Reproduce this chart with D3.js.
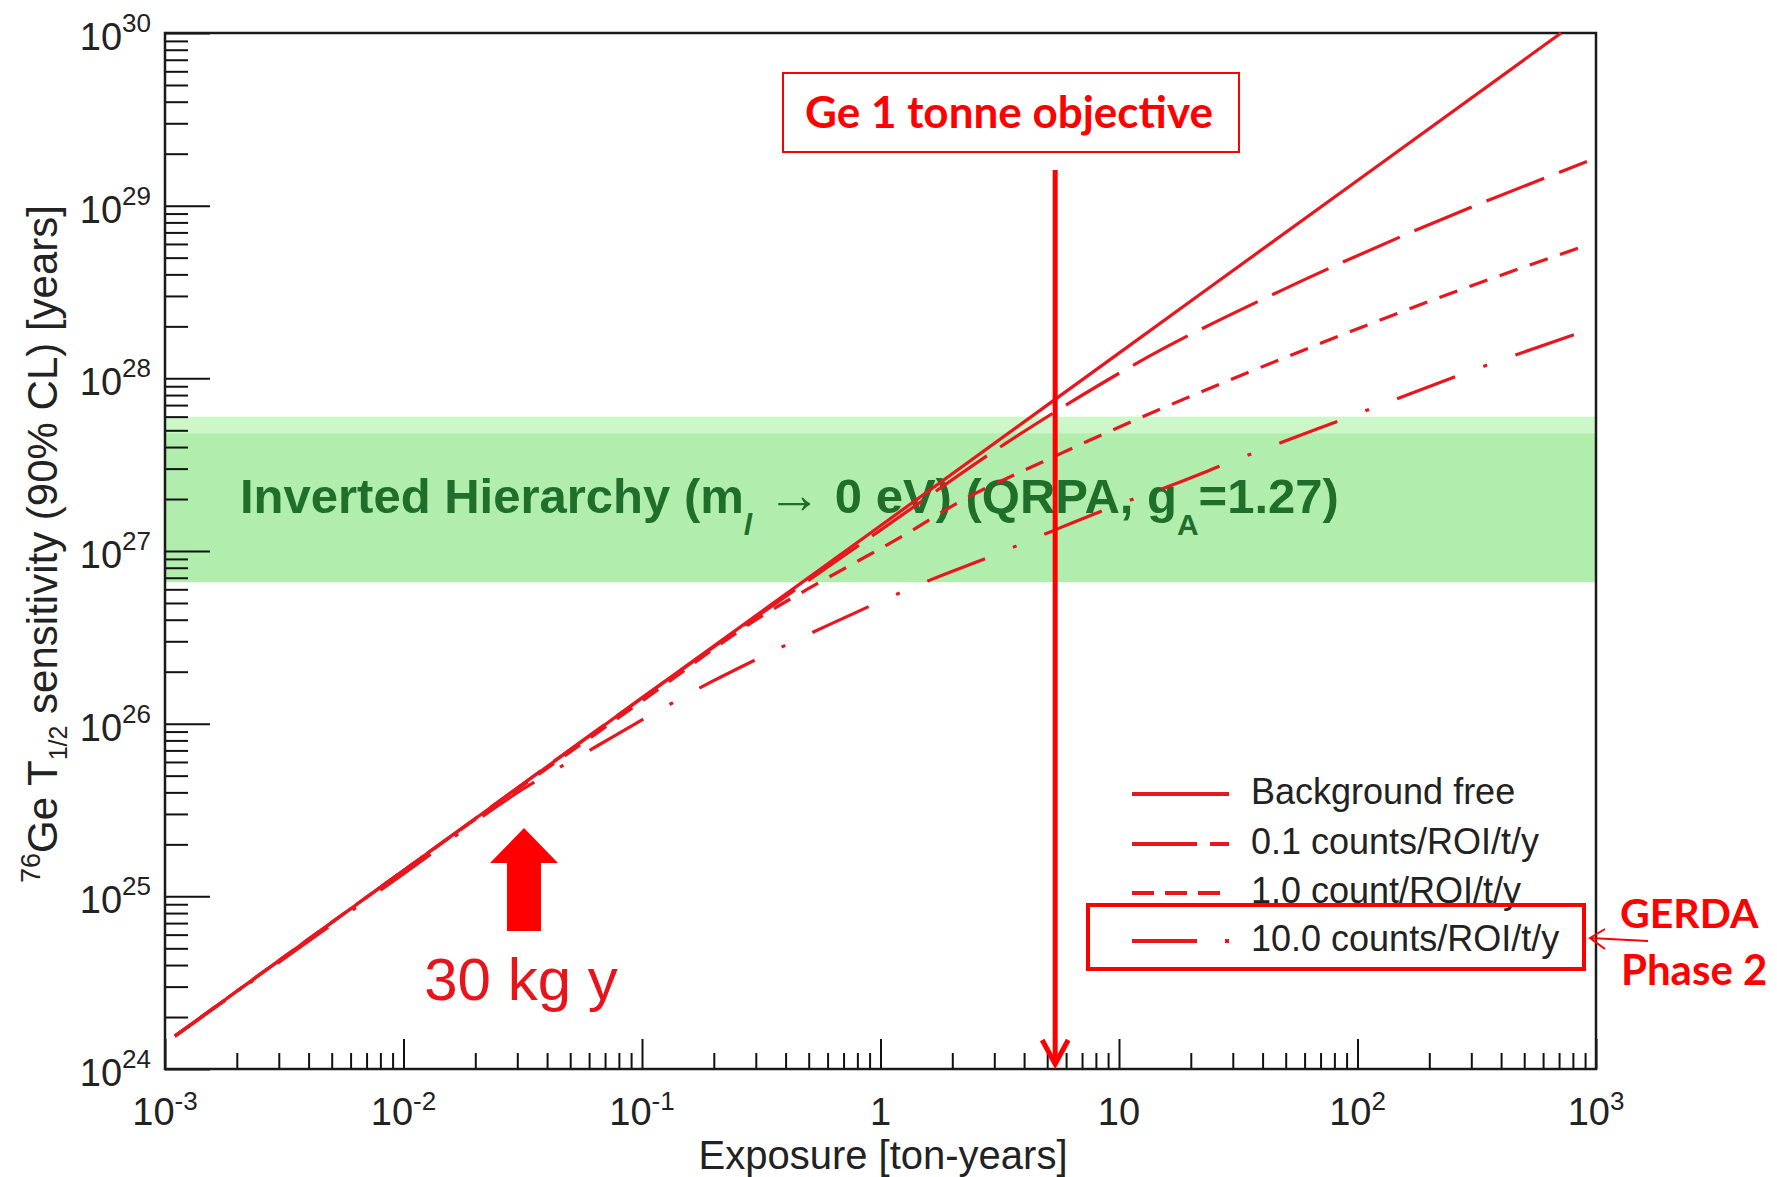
<!DOCTYPE html>
<html>
<head>
<meta charset="utf-8">
<script src="https://cdn.jsdelivr.net/npm/d3@7"></script>
<style>
  body { margin: 0; background: #fff; }
  svg text { font-family: "Liberation Sans", Arial, sans-serif; }
  .note { font-family: Lato, "Open Sans", sans-serif; font-weight: bold; }
</style>
</head>
<body>
<svg id="chart" width="1777" height="1177"></svg>
<script>
// exposure [ton-years] and 76Ge T1/2 sensitivity [years]
const seriesNames = ["Background free", "0.1 counts/ROI/t/y", "1.0 count/ROI/t/y", "10.0 counts/ROI/t/y"];

const bfExposure = [0.0011, 0.01, 0.1, 1, 10, 100, 714];
const bfT = [1.55e24, 1.41e25, 1.41e26, 1.4e27, 1.4e28, 1.4e29, 1.0e30];

const b01Exposure = [0.0011, 0.01, 0.1, 1, 3.35, 6.3, 12.2, 47.3, 188, 916];
const b01T = [1.55e24, 1.41e25, 1.41e26, 1.32e27, 4.2e27, 7.3e27, 1.25e28, 3.2e28, 7.5e28, 1.8e29];

const b1Exposure = [0.0011, 0.01, 0.1, 0.333, 0.557, 1.25, 2.15, 4.8, 14.6, 59.7, 245, 916];
const b1T = [1.55e24, 1.41e25, 1.35e26, 4.37e26, 6.6e26, 1.23e27, 1.93e27, 3.29e27, 6.55e27, 1.46e28, 3.1e28, 5.9e28];

const b10Exposure = [0.0011, 0.01, 0.0316, 0.0656, 0.111, 0.196, 0.339, 0.604, 1.61, 2.99, 5.14, 9.35, 16.7, 30.7, 96.6, 308, 916];
const b10T = [1.55e24, 1.35e25, 4.17e25, 7.5e25, 1.14e26, 1.75e26, 2.55e26, 3.72e26, 6.78e26, 9.46e26, 1.29e27, 1.8e27, 2.41e27, 3.36e27, 6.12e27, 1.12e28, 1.9e28];

const xTickValues = [1e-3, 1e-2, 1e-1, 1, 10, 100, 1000];
const xTickLabels = ["10^-3", "10^-2", "10^-1", "1", "10", "10^2", "10^3"];
const yTickValues = [1e24, 1e25, 1e26, 1e27, 1e28, 1e29, 1e30];
const yTickLabels = ["10^24", "10^25", "10^26", "10^27", "10^28", "10^29", "10^30"];

// inverted hierarchy band
const ihLow = 6.6e26;
const ihHigh = 4.8e27;
const ihHighEdge = 6.0e27;

const objectiveExposure = 5.4;   // Ge 1 tonne objective
const phase2Exposure = 0.032;    // 30 kg y

const seriesDash = [null, "62,16", "19,13", "62,30,4,30"];
const legendDash = [null, "65,13", "22,11", "65,28,4,28"];
const curveColor = "#e8161e";
const noteRed = "#ff0000";

let plot = {left: 165, right: 1596, top: 33, bottom: 1069};
let x = d3.scaleLog().domain([1e-3, 1e3]).range([plot.left, plot.right]);
let y = d3.scaleLog().domain([1e24, 1e30]).range([plot.bottom, plot.top]);

let svg = d3.select("#chart");
svg.append("rect").attr("width", 1777).attr("height", 1177).attr("fill", "#fff");

/* band */
svg.append("rect")
  .attr("x", x(1e-3) + 1).attr("width", x(1e3) - x(1e-3) - 2)
  .attr("y", y(ihHighEdge)).attr("height", y(ihLow) - y(ihHighEdge))
  .attr("fill", "#cdf6c9");
svg.append("rect")
  .attr("x", x(1e-3) + 1).attr("width", x(1e3) - x(1e-3) - 2)
  .attr("y", y(ihHigh)).attr("height", y(ihLow) - y(ihHigh))
  .attr("fill", "#b1eeae");

let bandText = svg.append("text")
  .attr("x", 240).attr("y", 513)
  .attr("font-size", 49).attr("font-weight", "bold").attr("fill", "#1f6f2b");
bandText.append("tspan").text("Inverted Hierarchy (m");
bandText.append("tspan").text("l").attr("font-size", 30).attr("font-style", "italic").attr("dy", 22);
bandText.append("tspan").text(" \u2192").attr("dy", -22).attr("font-size", 54).attr("font-weight", "normal");
bandText.append("tspan").text(" 0 eV) (QRPA, g");
bandText.append("tspan").text("A").attr("font-size", 30).attr("dy", 22);
bandText.append("tspan").text("=1.27)").attr("dy", -22);

/* axes */
let minorX = x.ticks().filter(t => !xTickValues.includes(t));
let minorY = y.ticks().filter(t => !yTickValues.some(v => Math.abs(v - t) / v < 1e-6));

function styleAxis(g) {
  g.select(".domain").remove();
  g.selectAll(".tick line").attr("stroke", "#111").attr("stroke-width", 2);
}

svg.append("g").attr("transform", "translate(0," + plot.bottom + ")")
  .call(d3.axisBottom(x).tickValues(minorX).tickSize(-16).tickFormat(""))
  .call(styleAxis);
svg.append("g").attr("transform", "translate(0," + plot.bottom + ")")
  .call(d3.axisBottom(x).tickValues(xTickValues).tickSize(-30).tickFormat(""))
  .call(styleAxis);
svg.append("g").attr("transform", "translate(" + plot.left + ",0)")
  .call(d3.axisLeft(y).tickValues(minorY).tickSize(-23).tickFormat(""))
  .call(styleAxis);
svg.append("g").attr("transform", "translate(" + plot.left + ",0)")
  .call(d3.axisLeft(y).tickValues(yTickValues).tickSize(-45).tickFormat(""))
  .call(styleAxis);

svg.append("rect")
  .attr("x", plot.left).attr("y", plot.top)
  .attr("width", plot.right - plot.left).attr("height", plot.bottom - plot.top)
  .attr("fill", "none").attr("stroke", "#1a1a1a").attr("stroke-width", 2.5);

function powerLabel(sel, label, supShift) {
  let parts = label.split("^");
  sel.append("tspan").text(parts[0]);
  if (parts.length > 1) {
    sel.append("tspan").text(parts[1]).attr("font-size", 26).attr("dy", supShift);
  }
}

xTickValues.forEach(function(v, i) {
  let t = svg.append("text")
    .attr("x", x(v)).attr("y", plot.bottom + 56)
    .attr("text-anchor", "middle").attr("font-size", 38).attr("fill", "#222");
  powerLabel(t, xTickLabels[i], -15);
});
yTickValues.forEach(function(v, i) {
  let t = svg.append("text")
    .attr("x", plot.left - 14).attr("y", y(v) + 17)
    .attr("text-anchor", "end").attr("font-size", 38).attr("fill", "#222");
  powerLabel(t, yTickLabels[i], -18);
});

svg.append("text").text("Exposure [ton-years]")
  .attr("x", 883).attr("y", 1169)
  .attr("text-anchor", "middle").attr("font-size", 40).attr("fill", "#222");

let yTitle = svg.append("text")
  .attr("transform", "translate(57,544) rotate(-90)")
  .attr("text-anchor", "middle").attr("font-size", 42).attr("fill", "#222");
yTitle.append("tspan").text("76").attr("font-size", 27).attr("dy", -17);
yTitle.append("tspan").text("Ge T").attr("dy", 17);
yTitle.append("tspan").text("1/2").attr("font-size", 25).attr("dy", 10);
yTitle.append("tspan").text(" sensitivity (90% CL) [years]").attr("dy", -10);

/* curves */
let series = [
  bfExposure.map((e, i) => [e, bfT[i]]),
  b01Exposure.map((e, i) => [e, b01T[i]]),
  b1Exposure.map((e, i) => [e, b1T[i]]),
  b10Exposure.map((e, i) => [e, b10T[i]])
];
let line = d3.line().x(d => x(d[0])).y(d => y(d[1])).curve(d3.curveMonotoneX);

svg.append("g").selectAll("path")
  .data(series).enter().append("path")
  .attr("d", line)
  .attr("fill", "none")
  .attr("stroke", curveColor)
  .attr("stroke-width", 3.2)
  .attr("stroke-dasharray", (d, i) => seriesDash[i]);

/* legend */
let legendRows = [794, 844, 893, 941];
seriesNames.forEach(function(name, i) {
  svg.append("line")
    .attr("x1", 1132).attr("x2", 1229)
    .attr("y1", legendRows[i]).attr("y2", legendRows[i])
    .attr("stroke", curveColor).attr("stroke-width", 4)
    .attr("stroke-dasharray", legendDash[i]);
  svg.append("text").text(name)
    .attr("x", 1251).attr("y", legendRows[i] + 10)
    .attr("font-size", 36).attr("fill", "#222");
});

/* annotations */
svg.append("rect")
  .attr("x", 1088).attr("y", 905).attr("width", 496).attr("height", 64)
  .attr("fill", "none").attr("stroke", noteRed).attr("stroke-width", 4);
svg.append("line")
  .attr("x1", 1648).attr("y1", 941).attr("x2", 1590).attr("y2", 938)
  .attr("stroke", noteRed).attr("stroke-width", 2);
svg.append("polyline")
  .attr("points", "1605,929 1590,938 1605,949")
  .attr("fill", "none").attr("stroke", noteRed).attr("stroke-width", 2);
svg.append("text").attr("class", "note").text("GERDA")
  .attr("x", 1620).attr("y", 928).attr("font-size", 41).attr("fill", noteRed);
svg.append("text").attr("class", "note").text("Phase 2")
  .attr("x", 1621).attr("y", 985).attr("font-size", 42).attr("fill", noteRed);

svg.append("rect")
  .attr("x", 783).attr("y", 73).attr("width", 456).attr("height", 79)
  .attr("fill", "#fff").attr("stroke", noteRed).attr("stroke-width", 2);
svg.append("text").attr("class", "note").text("Ge 1 tonne objective")
  .attr("x", 1009).attr("y", 128).attr("text-anchor", "middle")
  .attr("font-size", 44).attr("fill", noteRed);

let xo = x(objectiveExposure);
svg.append("line")
  .attr("x1", xo).attr("x2", xo).attr("y1", 170).attr("y2", plot.bottom - 6)
  .attr("stroke", noteRed).attr("stroke-width", 5);
svg.append("polyline")
  .attr("points", [[xo - 13, plot.bottom - 29], [xo, plot.bottom - 5], [xo + 13, plot.bottom - 29]].join(" "))
  .attr("fill", "none").attr("stroke", noteRed).attr("stroke-width", 5);

let xp = x(phase2Exposure);
svg.append("polygon")
  .attr("points", [[xp, 828], [xp + 34, 863], [xp + 17, 863], [xp + 17, 931],
                   [xp - 17, 931], [xp - 17, 863], [xp - 34, 863]].join(" "))
  .attr("fill", noteRed);
svg.append("text").text("30 kg y")
  .attr("x", xp - 3).attr("y", 1000).attr("text-anchor", "middle")
  .attr("font-size", 60).attr("fill", "#e8141c");
</script>
</body>
</html>
